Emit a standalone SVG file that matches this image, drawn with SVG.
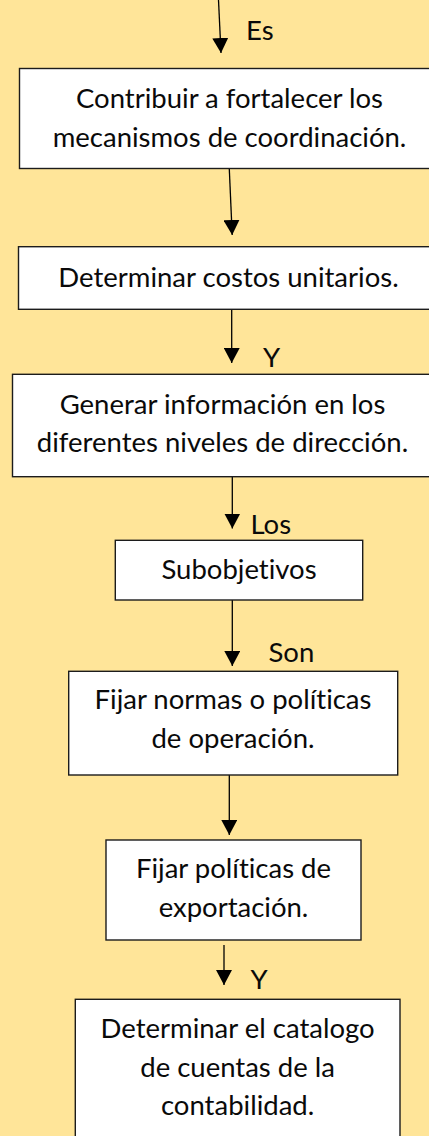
<svg xmlns="http://www.w3.org/2000/svg" width="429" height="1136" viewBox="0 0 429 1136">
<style>
.bg{fill:#FFE599}
.box{fill:#FFFFFF;stroke:#1c1c1c;stroke-width:1.4}
.t{font-family:Lato,"Liberation Sans",Arial,sans-serif;font-size:27.5px;fill:#0a0a0a;text-anchor:middle;font-variant-ligatures:none}
.lbl{font-family:Lato,"Liberation Sans",Arial,sans-serif;font-size:27.5px;fill:#0a0a0a;font-variant-ligatures:none}
.c{stroke:#000;stroke-width:1.3;fill:none;marker-end:url(#ah)}
</style>
<defs>
<marker id="ah" markerUnits="userSpaceOnUse" markerWidth="16" markerHeight="16" refX="15" refY="8" orient="auto">
<path d="M0,0 L15,8 L0,16 z" fill="#000"/>
</marker>
</defs>
<rect class="bg" x="0" y="0" width="429" height="1136"/>
<g id="connectors">
<line class="c" x1="218.5" y1="0" x2="221" y2="53"/>
<line class="c" x1="229.3" y1="169" x2="232.2" y2="235"/>
<line class="c" x1="231.7" y1="306" x2="231.7" y2="363"/>
<line class="c" x1="232.3" y1="477" x2="232.3" y2="528.5"/>
<line class="c" x1="232.3" y1="600" x2="232.3" y2="666"/>
<line class="c" x1="229.3" y1="772" x2="229.3" y2="835"/>
<line class="c" x1="224" y1="945" x2="224" y2="985"/>
<text class="lbl" x="246" y="40">Es</text>
<text class="lbl" x="263" y="367">Y</text>
<text class="lbl" x="250.5" y="534">Los</text>
<text class="lbl" x="268.5" y="662">Son</text>
<text class="lbl" x="250.5" y="989">Y</text>
</g>
<g id="n1">
<rect class="box" x="19.5" y="68.5" width="420" height="100"/>
<text class="t" x="229.5" y="108.3">Contribuir a fortalecer los</text>
<text class="t" x="229.5" y="146.7">mecanismos de coordinación.</text>
</g>
<g id="n2">
<rect class="box" x="18.5" y="246.7" width="420" height="62.6"/>
<text class="t" x="228.5" y="286.7">Determinar costos unitarios.</text>
</g>
<g id="n3">
<rect class="box" x="12.5" y="374.3" width="420" height="102.4"/>
<text class="t" x="222.5" y="414">Generar información en los</text>
<text class="t" x="222.5" y="451.7">diferentes niveles de dirección.</text>
</g>
<g id="n4">
<rect class="box" x="115.3" y="540.3" width="247.4" height="59.7"/>
<text class="t" x="239" y="579">Subobjetivos</text>
</g>
<g id="n5">
<rect class="box" x="68.7" y="671.3" width="329" height="103.7"/>
<text class="t" x="233" y="709.3">Fijar normas o políticas</text>
<text class="t" x="233" y="748.3">de operación.</text>
</g>
<g id="n6">
<rect class="box" x="106" y="840" width="255" height="100"/>
<text class="t" x="233.5" y="878.3">Fijar políticas de</text>
<text class="t" x="233.5" y="916.7">exportación.</text>
</g>
<g id="n7">
<rect class="box" x="75.3" y="999.3" width="324.7" height="160"/>
<text class="t" x="237.6" y="1038.3">Determinar el catalogo</text>
<text class="t" x="237.6" y="1076.7">de cuentas de la</text>
<text class="t" x="237.6" y="1115">contabilidad.</text>
</g>
</svg>
